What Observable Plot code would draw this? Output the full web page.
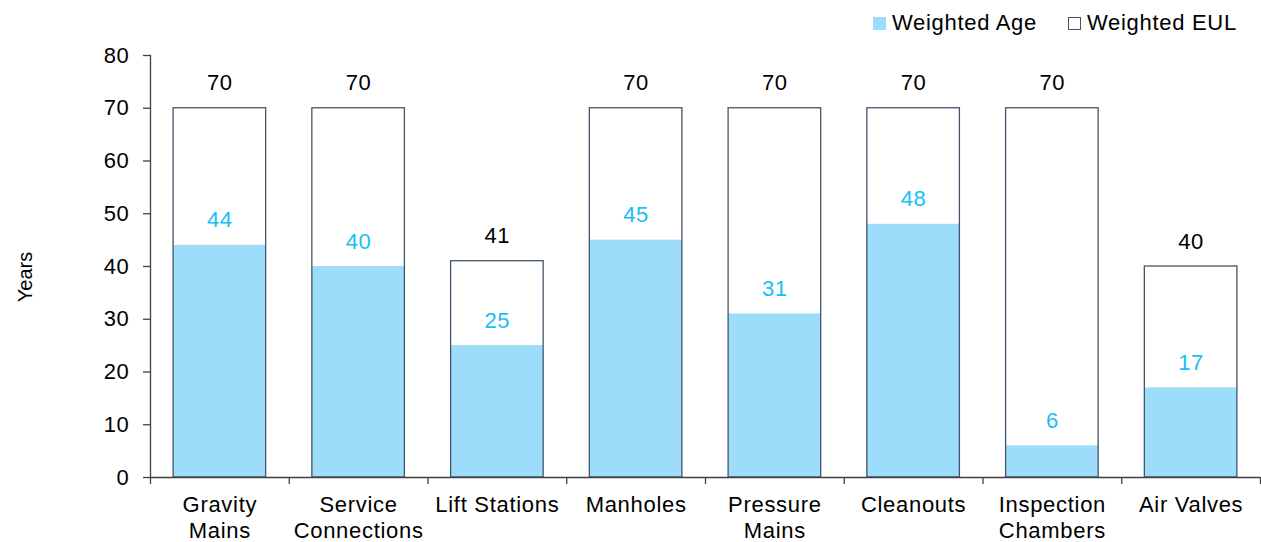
<!DOCTYPE html>
<html>
<head>
<meta charset="utf-8">
<script src="https://cdn.jsdelivr.net/npm/d3@7"></script>
<script src="https://cdn.jsdelivr.net/npm/@observablehq/plot@0.6"></script>
<style>
  html, body { margin: 0; padding: 0; background: #fff; }
  #wrap { position: relative; width: 1261px; height: 542px; font-family: "Liberation Sans", Arial, sans-serif; }
  #chart { position: absolute; left: 0; top: 0; }
  .legend { position: absolute; top: 10px; left: 873px; display: flex; align-items: center; font-size: 22px; letter-spacing: 0.7px; color: #000; white-space: nowrap; }
  .legend .item { display: flex; align-items: center; }
  .legend .sw { width: 13px; height: 13px; box-sizing: border-box; margin-right: 6px; }
  .ylabel { position: absolute; left: 25px; top: 277px; transform: translate(-50%, -50%) rotate(-90deg); font-size: 20px; color: #000; white-space: nowrap; }
</style>
</head>
<body>
<div id="wrap">
  <div id="chart"></div>
  <div class="legend" id="legend"></div>
  <div class="ylabel">Years</div>
</div>
<script>
// Asset categories (line breaks match the wrapped axis labels)
const categories = [
  "Gravity\nMains",
  "Service\nConnections",
  "Lift Stations",
  "Manholes",
  "Pressure\nMains",
  "Cleanouts",
  "Inspection\nChambers",
  "Air Valves"
];
// Weighted age of each asset class, years
const weightedAge = [44, 40, 25, 45, 31, 48, 6, 17];
// Weighted estimated useful life (EUL), years
const weightedEUL = [70, 70, 41, 70, 70, 70, 70, 40];
// Y axis ticks
const yTicks = [0, 10, 20, 30, 40, 50, 60, 70, 80];

const seriesNames = ["Weighted Age", "Weighted EUL"];

const ageColor = "#9ddcfb";
const ageLabelColor = "#17bff2";
const eulStroke = "#44546a";
const axisStroke = "#404040";

const rows = categories.map((c, i) => ({category: c, age: weightedAge[i], eul: weightedEUL[i]}));

const width = 1261, height = 542;
const marginLeft = 150, marginRight = 1, marginTop = 55, marginBottom = 65;
// one slot per category; edge ticks sit half a slot away from the band centre
const step = (width - marginLeft - marginRight) / categories.length;

const fontFamily = "Liberation Sans, Arial, sans-serif";

const chart = Plot.plot({
  width, height, marginLeft, marginRight, marginTop, marginBottom,
  style: {fontFamily, background: "white"},
  x: {domain: categories, paddingInner: 0.333, paddingOuter: 0.1665, round: false, axis: null},
  y: {domain: [0, 80], axis: null},
  marks: [
    // weighted age bars
    Plot.barY(rows, {x: "category", y: "age", fill: ageColor}),
    // weighted EUL outline bars
    Plot.barY(rows, {x: "category", y: "eul", fill: "none", stroke: eulStroke, strokeWidth: 1.3}),
    // value labels
    Plot.text(rows, {x: "category", y: "eul", text: d => String(d.eul), dy: -25, fontSize: 22, fill: "#000"}),
    Plot.text(rows, {x: "category", y: "age", text: d => String(d.age), dy: -25, fontSize: 22, fill: ageLabelColor}),
    // axis lines
    Plot.ruleY([0], {stroke: axisStroke, strokeWidth: 1.3}),
    Plot.frame({anchor: "left", stroke: axisStroke, strokeWidth: 1.3}),
    // y axis
    Plot.axisY({ticks: yTicks, tickSize: 7, tickPadding: 14, fontSize: 22, fill: "#000", stroke: axisStroke, strokeWidth: 1.3, label: null}),
    // x axis tick marks at category boundaries
    Plot.axisX({tickSize: 7, tickFormat: () => "", dx: -step / 2, stroke: axisStroke, strokeWidth: 1.3, label: null}),
    Plot.axisX({ticks: [categories[categories.length - 1]], tickSize: 7, tickFormat: () => "", dx: step / 2, stroke: axisStroke, strokeWidth: 1.3, label: null}),
    // x axis category labels
    Plot.axisX({tickSize: 0, tickPadding: 16, fontSize: 22, lineHeight: 1.18, fill: "#000", label: null})
  ]
});

// slightly wider letter spacing on all chart text
d3.select(chart).selectAll("text").style("letter-spacing", "0.7px");
document.getElementById("chart").appendChild(chart);

// legend
const legend = d3.select("#legend");
const swatches = [
  {name: seriesNames[0], style: `background:${ageColor};`},
  {name: seriesNames[1], style: `background:#fff;border:1.5px solid ${eulStroke};`}
];
swatches.forEach((s, i) => {
  const item = legend.append("div").attr("class", "item").style("margin-left", i ? "31px" : "0px");
  item.append("div").attr("class", "sw").attr("style", s.style);
  item.append("span").text(s.name);
});
</script>
</body>
</html>
